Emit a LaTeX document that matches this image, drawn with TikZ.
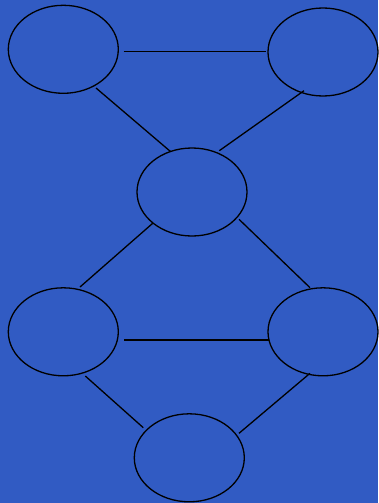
\documentclass[tikz,border=0pt]{standalone}
\usetikzlibrary{shapes.geometric}
\definecolor{bg}{RGB}{49,91,195}
\tikzset{
  blob/.style={ellipse, draw=black, line width=1.3pt, minimum width=110pt, minimum height=88pt, inner sep=0pt},
  link/.style={draw=black, line width=1.3pt}
}
\begin{document}
\begin{tikzpicture}[x=1pt,y=-1pt]
\fill[bg] (0,0) rectangle (378,503);
\useasboundingbox (0,0) rectangle (378,503);
\node[blob] (A) at (63.3,49.3) {};
\node[blob] (B) at (323,52) {};
\node[blob] (C) at (192,192) {};
\node[blob] (D) at (63.3,331.8) {};
\node[blob] (E) at (323,331.8) {};
\node[blob] (F) at (189.3,457.8) {};
\coordinate (ab1) at (123.7,51.5);
\coordinate (ab2) at (266,51.5);
\coordinate (ac1) at (96,88);
\coordinate (ac2) at (170.7,151.7);
\coordinate (bc1) at (304,90.7);
\coordinate (bc2) at (219.3,150.7);
\coordinate (cd1) at (152.7,223.3);
\coordinate (cd2) at (80,287);
\coordinate (ce1) at (239,219.3);
\coordinate (ce2) at (310,287.7);
\coordinate (de1) at (124,340);
\coordinate (de2) at (269,340);
\coordinate (df1) at (85.3,376);
\coordinate (df2) at (143.3,427.7);
\coordinate (ef1) at (310,373.3);
\coordinate (ef2) at (239,433.3);
\draw[link] (ab1) -- (ab2);
\draw[link] (ac1) -- (ac2);
\draw[link] (bc1) -- (bc2);
\draw[link] (cd1) -- (cd2);
\draw[link] (ce1) -- (ce2);
\draw[link] (de1) -- (de2);
\draw[link] (df1) -- (df2);
\draw[link] (ef1) -- (ef2);
\end{tikzpicture}
\end{document}
